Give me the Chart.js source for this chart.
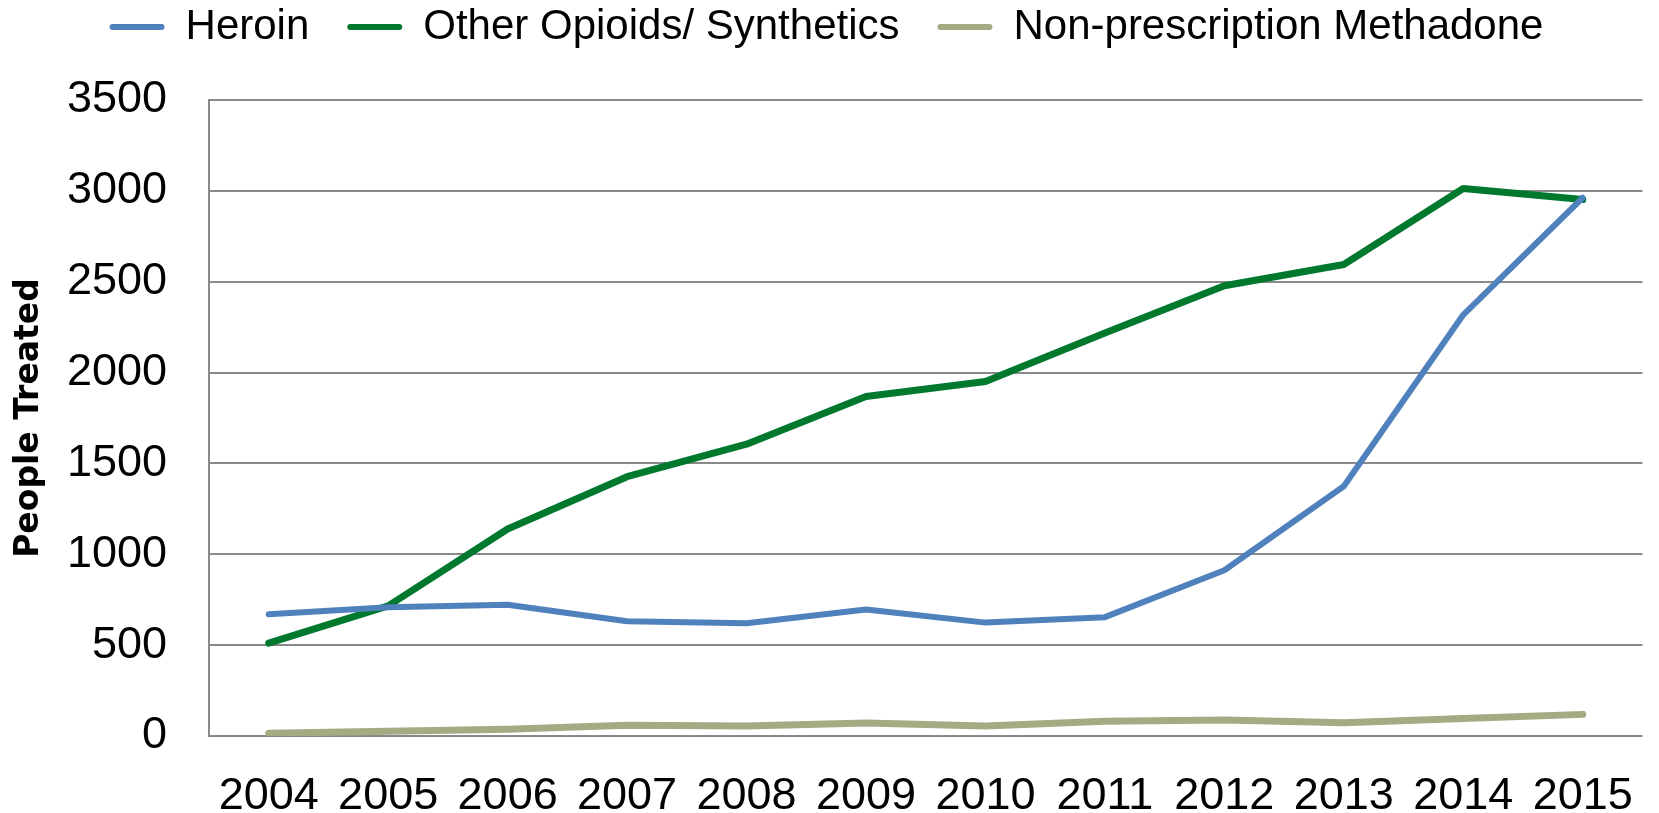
<!DOCTYPE html>
<html>
<head>
<meta charset="utf-8">
<title>People Treated</title>
<script src="https://cdn.jsdelivr.net/npm/chart.js@4.4.1/dist/chart.umd.min.js"></script>
<style>
    html, body { margin: 0; padding: 0; background: #ffffff; }
    #wrap { width: 1659px; height: 813px; }
</style>
</head>
<body>
<div id="wrap"><canvas id="treatedChart" width="1659" height="813"></canvas></div>
<script>
// Chart data
const years = ['2004', '2005', '2006', '2007', '2008', '2009', '2010', '2011', '2012', '2013', '2014', '2015'];
const heroin = [670, 709, 722, 632, 621, 696, 624, 654, 912, 1374, 2318, 2962];
const otherOpioids = [511, 716, 1139, 1427, 1606, 1868, 1951, 2218, 2478, 2595, 3013, 2952];
const methadone = [15, 26, 37, 59, 55, 71, 55, 81, 88, 73, 96, 119];
const yTicks = [0, 500, 1000, 1500, 2000, 2500, 3000, 3500];

const gridGray = '#8a8a8a';

// The legend uses its padding for both the gaps between items and the space
// above/below them, so fix its height here to keep the plot where it belongs
const legendHeightPlugin = {
    id: 'legendHeight',
    beforeLayout(chart) {
        const legend = chart.legend;
        if (!legend || legend._fixedHeight) return;
        const fit = legend.fit.bind(legend);
        legend.fit = function() {
            fit();
            this.height = 132;
        };
        legend._fixedHeight = true;
    }
};

document.addEventListener('DOMContentLoaded', function() {
    const ctx = document.getElementById('treatedChart');

    new Chart(ctx, {
        type: 'line',
        data: {
            labels: years,
            datasets: [
                {
                    label: 'Heroin',
                    data: heroin,
                    borderColor: '#4f81bd',
                    backgroundColor: '#4f81bd',
                    borderWidth: 6
                },
                {
                    label: 'Other Opioids/ Synthetics',
                    data: otherOpioids,
                    borderColor: '#00792f',
                    backgroundColor: '#00792f',
                    borderWidth: 7
                },
                {
                    label: 'Non-prescription Methadone',
                    data: methadone,
                    borderColor: '#a3ab83',
                    backgroundColor: '#a3ab83',
                    borderWidth: 7
                }
            ]
        },
        options: {
            responsive: false,
            animation: false,
            layout: {
                padding: { top: -32, right: 6, bottom: 0, left: 0 }
            },
            elements: {
                point: { radius: 0, hoverRadius: 0 },
                line: { tension: 0, borderCapStyle: 'round', borderJoinStyle: 'round' }
            },
            plugins: {
                legend: {
                    display: true,
                    position: 'top',
                    labels: {
                        boxWidth: 55,
                        boxHeight: 6,
                        padding: 38,
                        color: '#000000',
                        useBorderRadius: true,
                        borderRadius: 3,
                        font: { family: 'Liberation Sans', size: 42 },
                        generateLabels: function(chart) {
                            const items = Chart.defaults.plugins.legend.labels.generateLabels(chart);
                            items.forEach(item => {
                                item.lineWidth = 0;
                                item.fillStyle = item.strokeStyle;
                            });
                            return items;
                        }
                    }
                },
                tooltip: { enabled: false }
            },
            scales: {
                x: {
                    offset: true,
                    grid: { display: false },
                    border: { display: false },
                    ticks: {
                        color: '#000000',
                        padding: 26,
                        maxRotation: 0,
                        autoSkip: false,
                        font: { family: 'Liberation Sans', size: 45 }
                    },
                    afterFit: function(scale) {
                        scale.height = 77;
                    }
                },
                y: {
                    min: 0,
                    max: 3500,
                    afterBuildTicks: function(scale) {
                        scale.ticks = yTicks.map(v => ({ value: v }));
                    },
                    grid: {
                        color: gridGray,
                        lineWidth: 2,
                        drawTicks: false
                    },
                    border: { display: true, color: gridGray, width: 2 },
                    ticks: {
                        color: '#000000',
                        padding: 42,
                        font: { family: 'Liberation Sans', size: 45 },
                        callback: function(value) {
                            return String(value);
                        }
                    },
                    title: {
                        display: true,
                        text: 'People Treated',
                        color: '#000000',
                        padding: { top: 10, bottom: 0 },
                        font: { family: 'DejaVu Sans', size: 33, weight: 'bold' }
                    },
                    afterFit: function(scale) {
                        scale.width = 209;
                    }
                }
            }
        },
        plugins: [legendHeightPlugin]
    });
});
</script>
</body>
</html>
